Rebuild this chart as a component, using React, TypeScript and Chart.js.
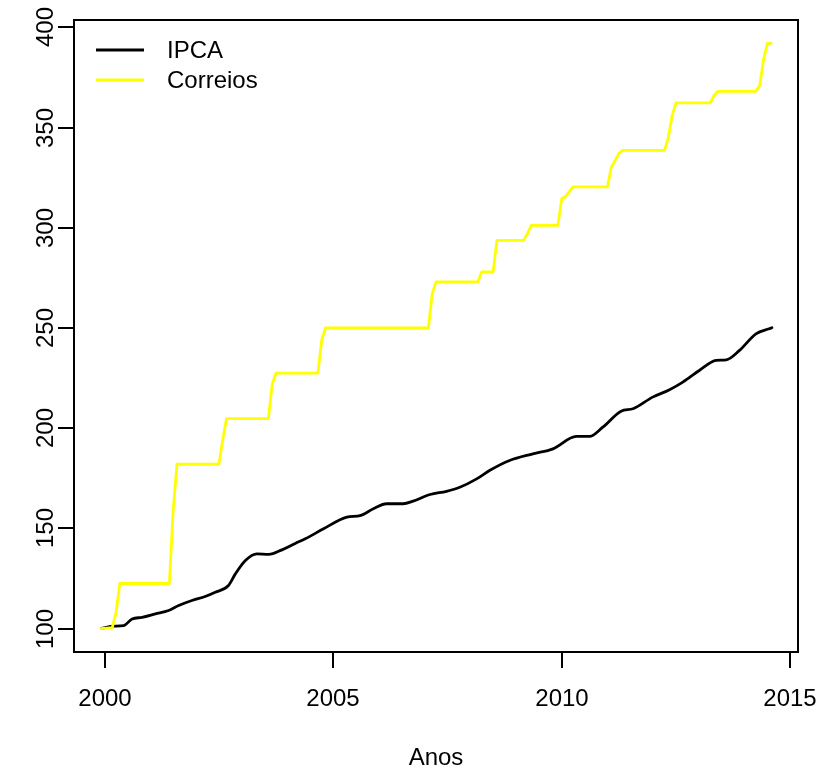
import React, { useEffect, useRef } from "react";
import { Chart, registerables } from "chart.js";

Chart.register(...registerables);

// IPCA index (decimal year, value)
const ipcaX = [1999.93, 2000.17, 2000.42, 2000.6, 2000.82, 2001.11, 2001.4, 2001.62, 2001.91, 2002.2, 2002.42, 2002.71, 2002.86, 2003.08, 2003.33, 2003.59, 2003.88, 2004.17, 2004.39, 2004.79, 2005.3, 2005.59, 2005.88, 2006.17, 2006.53, 2006.75, 2007.12, 2007.48, 2007.77, 2008.14, 2008.43, 2008.86, 2009.37, 2009.81, 2010.32, 2010.61, 2010.9, 2011.3, 2011.56, 2011.99, 2012.36, 2012.65, 2013.01, 2013.38, 2013.6, 2013.89, 2014.25, 2014.54, 2014.6];
const ipcaY = [100.1, 101.2, 101.5, 104.8, 105.6, 107.3, 109, 111.5, 114, 116, 118.1, 121.5, 127.3, 134, 137.3, 137, 139.3, 142.5, 144.8, 149.8, 155.6, 156.4, 159.8, 162.3, 162.3, 163.6, 166.9, 168.5, 170.5, 174.7, 179, 183.9, 187.2, 189.7, 195.9, 195.9, 200.5, 208.5, 209.7, 215.5, 219.2, 223, 228.8, 233.8, 234.1, 238.8, 247.1, 249.6, 250.1];

// Correios tariff index (decimal year, value)
const correiosX = [1999.917, 2000.167, 2000.25, 2000.333, 2001.417, 2001.5, 2001.583, 2002.5, 2002.583, 2002.667, 2003.583, 2003.667, 2003.75, 2004.667, 2004.75, 2004.833, 2007.083, 2007.167, 2007.25, 2008.167, 2008.25, 2008.5, 2008.583, 2009.167, 2009.25, 2009.333, 2009.917, 2010.0, 2010.083, 2010.167, 2010.25, 2011.0, 2011.083, 2011.167, 2011.25, 2011.333, 2012.25, 2012.333, 2012.417, 2012.5, 2013.25, 2013.333, 2013.417, 2014.25, 2014.333, 2014.417, 2014.5, 2014.583];
const correiosY = [100, 100.5, 108, 122.5, 122.5, 159, 182, 182, 194, 204.8, 204.8, 222, 227.5, 227.5, 244, 250, 250, 267, 273, 273, 278, 278, 293.7, 293.7, 297, 301.2, 301.2, 314.5, 315.5, 318, 320.4, 320.4, 330, 333.5, 337, 338.6, 338.6, 345, 356, 362.3, 362.3, 366, 368.1, 368.1, 371, 384, 392, 392];

const xTicks = [2000, 2005, 2010, 2015];
const yTicks = [100, 150, 200, 250, 300, 350, 400];
const seriesNames = ["IPCA", "Correios"];
const seriesColors = ["#000000", "#ffff00"];
const xTitle = "Anos";

const FONT = '24px "Liberation Sans", Arial, sans-serif';

export default function App() {
  const ref = useRef<HTMLCanvasElement | null>(null);
  useEffect(() => {
    document.body.style.margin = "0";
    const canvas = ref.current;
    if (!canvas) return;

    const rPlot = {
      id: "rplot",
      afterDraw(chart: any) {
        const ctx = chart.ctx;
        const a = chart.chartArea;
        const xs = chart.scales.x;
        const ys = chart.scales.y;
        ctx.save();
        ctx.strokeStyle = "#000";
        ctx.lineWidth = 2;
        ctx.strokeRect(a.left, a.top, a.right - a.left, a.bottom - a.top);
        ctx.fillStyle = "#000";
        ctx.font = FONT;
        // x ticks
        ctx.textAlign = "center";
        ctx.textBaseline = "middle";
        for (const t of xTicks) {
          const px = Math.round(xs.getPixelForValue(t));
          ctx.beginPath();
          ctx.moveTo(px, a.bottom);
          ctx.lineTo(px, a.bottom + 16);
          ctx.stroke();
          ctx.fillText(String(t), px, a.bottom + 47);
        }
        // y ticks
        for (const t of yTicks) {
          const py = Math.round(ys.getPixelForValue(t));
          ctx.beginPath();
          ctx.moveTo(a.left, py);
          ctx.lineTo(a.left - 16, py);
          ctx.stroke();
          ctx.save();
          ctx.translate(a.left - 28, py);
          ctx.rotate(-Math.PI / 2);
          ctx.fillText(String(t), 0, 0);
          ctx.restore();
        }
        // axis title
        ctx.fillText(xTitle, (a.left + a.right) / 2, a.bottom + 106);
        // legend
        ctx.textAlign = "left";
        seriesNames.forEach((name, i) => {
          const y = a.top + 30 + i * 30;
          ctx.strokeStyle = seriesColors[i];
          ctx.lineWidth = 3;
          ctx.beginPath();
          ctx.moveTo(a.left + 22, y);
          ctx.lineTo(a.left + 70, y);
          ctx.stroke();
          ctx.fillStyle = "#000";
          ctx.fillText(name, a.left + 93, y + 1);
        });
        ctx.restore();
      },
    };

    const chart = new Chart(canvas, {
      type: "line",
      data: {
        datasets: [
          {
            label: seriesNames[0],
            data: ipcaX.map((x, i) => ({ x, y: ipcaY[i] })),
            borderColor: seriesColors[0],
            borderWidth: 2.8,
            pointRadius: 0,
            cubicInterpolationMode: "monotone",
            borderJoinStyle: "round",
            borderCapStyle: "round",
            order: 2,
          },
          {
            label: seriesNames[1],
            data: correiosX.map((x, i) => ({ x, y: correiosY[i] })),
            borderColor: seriesColors[1],
            borderWidth: 2.8,
            pointRadius: 0,
            tension: 0,
            borderJoinStyle: "round",
            borderCapStyle: "round",
            order: 1,
          },
        ],
      },
      options: {
        responsive: false,
        animation: false,
        layout: { padding: { left: 74, right: 34, top: 20, bottom: 117 } },
        plugins: { legend: { display: false }, tooltip: { enabled: false } },
        scales: {
          x: { type: "linear", display: false, min: 1999.33, max: 2015.17 },
          y: { type: "linear", display: false, min: 88.32, max: 403.68 },
        },
      },
      plugins: [rPlot],
    });
    return () => chart.destroy();
  }, []);
  return (
    <div style={{ width: 832, height: 769, background: "#fff" }}>
      <canvas ref={ref} width={832} height={769} style={{ display: "block" }} />
    </div>
  );
}
